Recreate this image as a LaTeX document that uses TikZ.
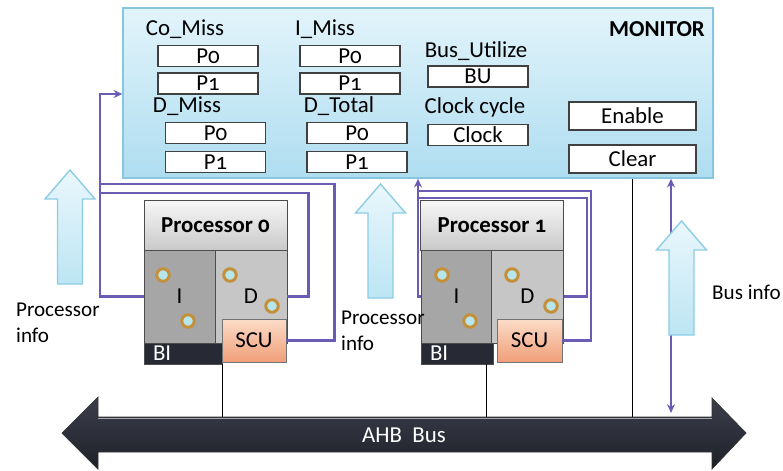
\documentclass[tikz,border=0pt]{standalone}
\usepackage{fontspec}
\setmainfont{Carlito}[Numbers=OldStyle]
\usetikzlibrary{arrows.meta}

\definecolor{montop}{HTML}{E2F4FB}
\definecolor{monbot}{HTML}{AEDDF0}
\definecolor{monedge}{HTML}{86C6DF}
\definecolor{cacheI}{HTML}{A6A6A6}
\definecolor{cacheD}{HTML}{C6C6C6}
\definecolor{biblue}{HTML}{272A35}
\definecolor{scutop}{HTML}{FCDCC8}
\definecolor{scubot}{HTML}{F09E78}
\definecolor{portring}{HTML}{C4903A}
\definecolor{portin}{HTML}{B6E6EC}
\definecolor{linkpurple}{HTML}{6A5BB5}
\definecolor{uptop}{HTML}{EAF7FC}
\definecolor{upbot}{HTML}{BCE5F3}
\definecolor{upedge}{HTML}{8CCDE4}
\definecolor{bustop}{HTML}{3C3F4B}
\definecolor{busbot}{HTML}{1E2029}

\tikzset{
  monbox/.style={draw=monedge, line width=0.8pt, top color=montop, bottom color=monbot,
    minimum width=11.8cm, minimum height=3.4cm, inner sep=0pt},
  reg/.style={draw=black!75, fill=white, line width=0.7pt, minimum width=2cm,
    minimum height=0.42cm, inner sep=0pt},
  ctrl/.style={reg, minimum width=2.54cm, minimum height=0.56cm},
  hdr/.style={draw=black!70, top color=gray!6, bottom color=gray!42, minimum width=2.86cm,
    minimum height=1cm, inner sep=0pt, font=\fontsize{13}{15}\selectfont\bfseries},
  icache/.style={draw=black!70, fill=cacheI, minimum width=1.42cm, minimum height=1.86cm, inner sep=0pt},
  dcache/.style={draw=black!70, fill=cacheD, minimum width=1.44cm, minimum height=1.86cm, inner sep=0pt},
  bi/.style={draw=black!70, fill=biblue, text=white, minimum height=0.42cm, inner sep=0pt, align=left},
  scu/.style={draw=black!55, top color=scutop, bottom color=scubot, minimum height=0.86cm, inner sep=0pt},
  port/.style={circle, draw=portring, line width=1.7pt, fill=portin, minimum size=0.25cm, inner sep=0pt},
  link/.style={draw=linkpurple, line width=1.5pt},
  info/.style={anchor=west, align=left, font=\fontsize{12}{14.5}\selectfont},
  upblock/.style={draw=upedge, line width=0.8pt, top color=uptop, bottom color=upbot},
}

\begin{document}
\begin{tikzpicture}[x=0.02cm, y=-0.02cm, >={Stealth[length=5pt,width=4.5pt]},
    font=\fontsize{13}{15}\selectfont]
    \useasboundingbox (0,0) rectangle (783,470);

    \node[monbox] (mon) at (418,93) {};
    \node[font=\fontsize{13}{15}\selectfont\bfseries] (montitle) at (657,29) {MONITOR};

    \node (comiss) at (185,29) {Co\_Miss};
    \node[reg] (coP0) at (208,56) {P0};
    \node[reg] (coP1) at (208,83.5) {P1};
    \node (imiss) at (325,29) {I\_Miss};
    \node[reg] (iP0) at (350,56) {P0};
    \node[reg] (iP1) at (350,83.5) {P1};
    \node (dmiss) at (187,106) {D\_Miss};
    \node[reg] (dmP0) at (215.5,133) {P0};
    \node[reg] (dmP1) at (215.5,162) {P1};
    \node (dtotal) at (339,106) {D\_Total};
    \node[reg] (dtP0) at (357,133) {P0};
    \node[reg] (dtP1) at (357,162) {P1};
    \node (busutil) at (476,51) {Bus\_Utilize};
    \node[reg] (bu) at (478,76.5) {BU};
    \node (clkcycle) at (475,107) {Clock cycle};
    \node[reg] (clk) at (478,135) {Clock};
    \node[ctrl] (enable) at (632.5,116) {Enable};
    \node[ctrl] (clear) at (632.5,159) {Clear};

    \draw (clear.south |- mon.south) -- (clear.south |- 0,434);
    \coordinate (bt) at (671,413);
    \draw[link,<->] (bt |- mon.south) -- (bt);

    \foreach \cx/\yt in {70/170, 380.5/184, 681.5/221}
        \draw[upblock] (\cx-12.5,\yt+114) -- (\cx-12.5,\yt+29) -- (\cx-25,\yt+29) -- (\cx,\yt)
            -- (\cx+25,\yt+29) -- (\cx+12.5,\yt+29) -- (\cx+12.5,\yt+114) -- cycle;

    % processor 0
    \node[hdr] (hdr0) at (215.5,225) {Processor 0};
    \node[icache] (I0) at (179.5,296.5) {I};
    \node[dcache] (D0) at (251,296.5) {D};
    \node[bi, minimum width=1.56cm, text width=1.2cm] (BI0) at (183,353.5) {BI};
    \node[scu, minimum width=1.28cm] (SCU0) at (254,340.5) {SCU};
    \node[port] (pa0) at (163,275) {};
    \node[port] (pb0) at (188,321) {};
    \node[port] (pc0) at (230,275) {};
    \node[port] (pd0) at (272,306) {};

    % processor 1
    \node[hdr] (hdr1) at (492,225) {Processor 1};
    \node[icache] (I1) at (456.5,296.5) {I};
    \node[dcache] (D1) at (527.5,296.5) {D};
    \node[bi, minimum width=1.44cm, text width=1.08cm] (BI1) at (457,353.5) {BI};
    \node[scu, minimum width=1.3cm] (SCU1) at (529.5,340.5) {SCU};
    \node[port] (pa1) at (442,275) {};
    \node[port] (pb1) at (470,321) {};
    \node[port] (pc1) at (512,275) {};
    \node[port] (pd1) at (551,306) {};

    \node[info] (pinfo0) at (10,323) {Processor\\info};
    \node[info] (pinfo1) at (335,331) {Processor\\info};
    \node[info] (businfo) at (706,292) {Bus info};

    \coordinate (j0) at (100,94);
    \draw[link,->] (I0.west) -| (j0) -- (j0 -| mon.west);
    \draw[link] (D0.east) -- ++(21,0) |- (j0 |- 0,193);
    \draw[link] (SCU0.east) -- ++(48,0) |- (j0 |- 0,184);

    \coordinate (j1) at (418,296.5);
    \draw[link,->] (I1.west) -- (j1) -- (j1 |- mon.south);
    \draw[link] (D1.east) -- ++(23,0) |- (j1 |- 0,198);
    \draw[link] (SCU1.east) -- ++(28.5,0) |- (j1 |- 0,191);

    \draw (BI0.south east) -- (BI0.south east |- 0,430);
    \draw (BI1.south east) ++(-7,0) -- ++(0,66);

    % AHB bus
    \draw[draw=black!80, top color=bustop, bottom color=busbot]
        (62,433) -- (98,397) -- (98,417) -- (712,417) -- (712,398) -- (746,433)
        -- (712,469) -- (712,452) -- (98,452) -- (98,469) -- cycle;
    \draw[gray!70] (98,418) -- (712,418);
    \node[text=white] (bus) at (404,435) {AHB\ \ Bus};
\end{tikzpicture}
\end{document}
